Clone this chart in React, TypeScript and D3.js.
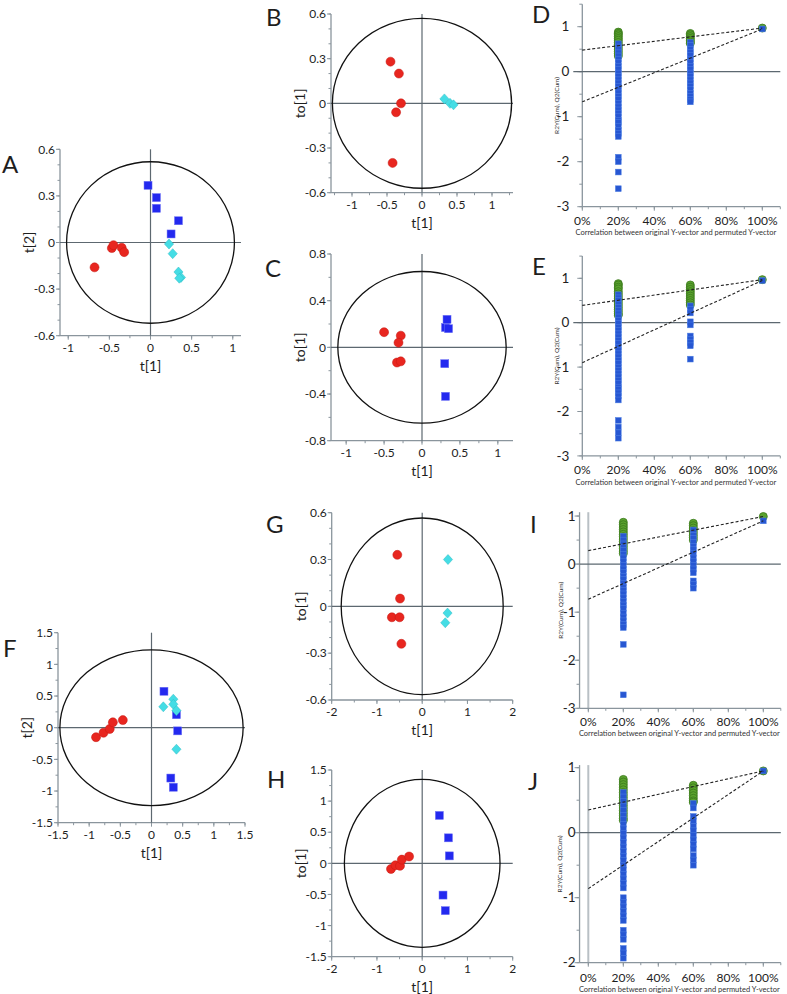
import React from "react";
import * as d3 from "d3";

const FONT = "Lato, 'Open Sans', 'DejaVu Sans', sans-serif";

type Pt = [number, number];

// ---------- Score plot data (t[1], t[2]/to[1]) ----------
const aRed: Pt[] = [[-0.68, -0.16], [-0.47, -0.036], [-0.45, -0.017], [-0.35, -0.034], [-0.32, -0.062]];
const aBlue: Pt[] = [[-0.03, 0.368], [0.072, 0.289], [0.072, 0.22], [0.34, 0.14], [0.25, 0.055]];
const aCyan: Pt[] = [[0.225, -0.01], [0.27, -0.072], [0.34, -0.19], [0.37, -0.225], [0.35, -0.23]];

const bRed: Pt[] = [[-0.45, 0.28], [-0.33, 0.2], [-0.3, 0.0], [-0.37, -0.06], [-0.42, -0.4]];
const bCyan: Pt[] = [[0.32, 0.03], [0.4, 0.0], [0.45, -0.01]];

const cRed: Pt[] = [[-0.5, 0.13], [-0.28, 0.1], [-0.31, 0.04], [-0.33, -0.13], [-0.28, -0.12]];
const cBlue: Pt[] = [[0.33, 0.24], [0.31, 0.17], [0.35, 0.16], [0.3, -0.14], [0.31, -0.42]];

const fRed: Pt[] = [[-0.89, -0.15], [-0.77, -0.08], [-0.67, -0.02], [-0.62, 0.085], [-0.46, 0.12]];
const fBlue: Pt[] = [[0.2, 0.575], [0.4, 0.205], [0.42, -0.05], [0.31, -0.795], [0.35, -0.94]];
const fCyan: Pt[] = [[0.19, 0.33], [0.35, 0.45], [0.35, 0.37], [0.4, 0.27], [0.4, -0.34]];

const gRed: Pt[] = [[-0.55, 0.33], [-0.49, 0.05], [-0.67, -0.07], [-0.5, -0.07], [-0.46, -0.24]];
const gCyan: Pt[] = [[0.57, 0.3], [0.56, -0.043], [0.51, -0.105]];

const hRed: Pt[] = [[-0.69, -0.09], [-0.59, -0.03], [-0.49, -0.04], [-0.45, 0.06], [-0.29, 0.11]];
const hBlue: Pt[] = [[0.38, 0.77], [0.58, 0.41], [0.6, 0.12], [0.46, -0.51], [0.51, -0.76]];

// ---------- Permutation data (R2 = green circles, Q2 = blue squares) ----------
const dGreen20 = [0.88, 0.85, 0.82, 0.78, 0.74, 0.7, 0.65, 0.6, 0.55, 0.5, 0.45, 0.4, 0.35];
const dBlue20 = [0.62, 0.55, 0.5, 0.42, 0.35, 0.28, 0.2, 0.12, 0.05, -0.03, -0.1, -0.18, -0.25, -0.33, -0.4, -0.47, -0.55, -0.62, -0.7, -0.78, -0.85, -0.92, -1.0, -1.08, -1.13, -1.22, -1.3, -1.37, -1.44, -1.9, -2.0, -2.23, -2.6];
const dGreen60 = [0.85, 0.82, 0.78, 0.74, 0.7, 0.66, 0.63];
const dBlue60 = [0.65, 0.58, 0.5, 0.43, 0.36, 0.28, 0.2, 0.12, 0.05, -0.03, -0.1, -0.18, -0.25, -0.32, -0.4, -0.48, -0.55, -0.62, -0.67];
const dGreen100 = [0.97];
const dBlue100 = [0.95];
const dR2Line = [0.48, 0.97];
const dQ2Line = [-0.67, 0.95];

const eGreen20 = [0.88, 0.85, 0.8, 0.76, 0.7, 0.65, 0.6, 0.55, 0.5, 0.45, 0.4, 0.35, 0.3, 0.25, 0.2, 0.17];
const eBlue20 = [0.63, 0.56, 0.5, 0.42, 0.35, 0.28, 0.2, 0.13, 0.05, -0.02, -0.1, -0.17, -0.25, -0.32, -0.4, -0.47, -0.55, -0.62, -0.7, -0.77, -0.85, -0.92, -1.0, -1.07, -1.15, -1.22, -1.3, -1.37, -1.45, -1.5, -1.58, -1.65, -1.74, -2.2, -2.35, -2.48, -2.6];
const eGreen60 = [0.85, 0.8, 0.75, 0.7, 0.65, 0.6, 0.55, 0.5, 0.45, 0.4];
const eBlue60 = [0.38, 0.3, 0.22, 0.02, -0.05, -0.3, -0.38, -0.45, -0.52, -0.82];
const eGreen100 = [0.97];
const eBlue100 = [0.95];
const eR2Line = [0.39, 0.97];
const eQ2Line = [-0.9, 0.95];

const iGreen20 = [0.87, 0.82, 0.77, 0.72, 0.67, 0.62, 0.57, 0.52, 0.47, 0.42, 0.37, 0.32, 0.27, 0.22];
const iBlue20 = [0.58, 0.5, 0.42, 0.35, 0.28, 0.2, 0.13, 0.05, -0.03, -0.1, -0.17, -0.25, -0.32, -0.4, -0.48, -0.55, -0.62, -0.7, -0.78, -0.85, -0.92, -1.02, -1.1, -1.18, -1.26, -1.32, -1.67, -2.72];
const iGreen60 = [0.85, 0.8, 0.75, 0.7, 0.65, 0.6, 0.55, 0.5];
const iBlue60 = [0.71, 0.6, 0.53, 0.45, 0.37, 0.3, 0.22, 0.13, 0.05, -0.03, -0.1, -0.18, -0.35, -0.42, -0.5];
const iGreen100 = [0.99];
const iBlue100 = [0.9];
const iR2Line = [0.28, 0.99];
const iQ2Line = [-0.73, 0.9];

const jGreen20 = [0.82, 0.78, 0.74, 0.7, 0.66, 0.62, 0.58, 0.54, 0.5, 0.46, 0.42, 0.38, 0.34, 0.3, 0.26, 0.22, 0.19];
const jBlue20 = [0.62, 0.55, 0.48, 0.41, 0.34, 0.27, 0.2, 0.13, 0.06, -0.01, -0.08, -0.15, -0.22, -0.29, -0.36, -0.43, -0.5, -0.57, -0.64, -0.71, -0.78, -0.85, -1.0, -1.07, -1.14, -1.21, -1.28, -1.35, -1.5, -1.57, -1.64, -1.78, -1.85, -1.93];
const jGreen60 = [0.73, 0.69, 0.65, 0.61, 0.57, 0.53, 0.49, 0.47];
const jBlue60 = [0.45, 0.38, 0.25, 0.18, 0.1, 0.03, -0.04, -0.11, -0.18, -0.25, -0.35, -0.42, -0.5];
const jGreen100 = [0.95];
const jBlue100 = [0.95];
const jR2Line = [0.35, 0.95];
const jQ2Line = [-0.86, 0.95];

const permX = [20, 60, 100];
const permTickLabels = ["0%", "20%", "40%", "60%", "80%", "100%"];
const permTicks = [0, 20, 40, 60, 80, 100];

// ---------- styles ----------
const AXIS = "#8a959d";
const ZERO = "#5d6870";
const RED = "#e8261f";
const BLUE = "#2329ef";
const CYAN = "#45dde5";
const PGREEN = "#5aa22e";
const PBLUE = "#2757d2";
const TXT = "#1e1e1e";

function minorRange(domain: number[], step: number) {
  const out: number[] = [];
  const start = Math.ceil(domain[0] / step - 1e-9) * step;
  for (let v = start; v <= domain[1] + 1e-9; v += step) out.push(+v.toFixed(6));
  return out;
}

function ScorePlot(p: any) {
  const x = d3.scaleLinear().domain(p.xDomain).range(p.xRange);
  const y = d3.scaleLinear().domain(p.yDomain).range(p.yRange);
  const [x0, x1] = p.xRange;
  const [yb, yt] = p.yRange;
  const cx = x(0), cy = y(0);
  const erx = x(p.rx) - cx, ery = cy - y(p.ry);
  const fmt = (v: number) => (v === 0 ? "0" : String(v));
  return (
    <g>
      <text x={p.letterPos[0]} y={p.letterPos[1]} fontSize={24} fontFamily={FONT} fill={TXT}>{p.letter}</text>
      {/* minor ticks */}
      {minorRange(p.yDomain, p.yMinor).map((v, i) => (
        <line key={"ym" + i} x1={x0 - 2.5} x2={x0} y1={y(v)} y2={y(v)} stroke={AXIS} strokeWidth={1} />
      ))}
      {minorRange(p.xDomain, p.xMinor).map((v, i) => (
        <line key={"xm" + i} x1={x(v)} x2={x(v)} y1={yb} y2={yb + 2.5} stroke={AXIS} strokeWidth={1} />
      ))}
      {p.yTicks.map((v: number, i: number) => (
        <g key={"yt" + i}>
          <line x1={x0 - 4} x2={x0} y1={y(v)} y2={y(v)} stroke={AXIS} strokeWidth={1} />
          <text x={x0 - 5} y={y(v)} dy="0.35em" textAnchor="end" fontSize={12} fontFamily={FONT} fill={TXT}>{fmt(v)}</text>
        </g>
      ))}
      {p.xTicks.map((v: number, i: number) => (
        <g key={"xt" + i}>
          <line x1={x(v)} x2={x(v)} y1={yb} y2={yb + 4} stroke={AXIS} strokeWidth={1} />
          <text x={x(v)} y={yb + 12} dy="0.35em" textAnchor="middle" fontSize={12} fontFamily={FONT} fill={TXT}>{fmt(v)}</text>
        </g>
      ))}
      <line x1={x0} x2={x0} y1={yt} y2={yb} stroke={AXIS} strokeWidth={1.3} />
      <line x1={x0} x2={x1} y1={yb} y2={yb} stroke={AXIS} strokeWidth={1.3} />
      <line x1={cx} x2={cx} y1={yt} y2={yb} stroke={ZERO} strokeWidth={1.2} />
      <line x1={x0} x2={x1} y1={cy} y2={cy} stroke={ZERO} strokeWidth={1.2} />
      <ellipse cx={cx} cy={cy} rx={erx} ry={ery} fill="none" stroke="#111" strokeWidth={1.3} />
      <text x={(x0 + x1) / 2} y={yb + 30} dy="0.35em" textAnchor="middle" fontSize={14} fontFamily={FONT} fill={TXT}>{p.xTitle}</text>
      <text transform={`translate(${x0 - 31},${(yb + yt) / 2}) rotate(-90)`} dy="0.35em" textAnchor="middle" fontSize={14} fontFamily={FONT} fill={TXT}>{p.yTitle}</text>
      {(p.red || []).map((d: Pt, i: number) => (
        <circle key={"r" + i} cx={x(d[0])} cy={y(d[1])} r={4.5} fill={RED} stroke="#c41812" strokeWidth={0.5} />
      ))}
      {(p.blue || []).map((d: Pt, i: number) => (
        <rect key={"b" + i} x={x(d[0]) - 4} y={y(d[1]) - 4} width={8} height={8} fill={BLUE} stroke="#6c70f5" strokeWidth={0.5} />
      ))}
      {(p.cyan || []).map((d: Pt, i: number) => (
        <path key={"c" + i} transform={`translate(${x(d[0])},${y(d[1])})`} d="M0,-5L4.6,0L0,5L-4.6,0Z" fill={CYAN} stroke="#2fbcc5" strokeWidth={0.5} />
      ))}
    </g>
  );
}

function PermPlot(p: any) {
  const x = d3.scaleLinear().domain(p.xDomain).range(p.xRange);
  const y = d3.scaleLinear().domain(p.yDomain).range(p.yRange);
  const [x0, x1] = p.xRange;
  const [yb, yt] = p.yRange;
  const groupsG = [p.green20, p.green60, p.green100];
  const groupsB = [p.blue20, p.blue60, p.blue100];
  const line = d3.line<[number, number]>().x((d) => x(d[0])).y((d) => y(d[1]));
  return (
    <g>
      <text x={p.letterPos[0]} y={p.letterPos[1]} fontSize={24} fontFamily={FONT} fill={TXT}>{p.letter}</text>
      {p.lightZero && (
        <line x1={x(0)} x2={x(0)} y1={yt} y2={yb} stroke="#b9c0c5" strokeWidth={2} />
      )}
      {minorRange(p.yDomain, 0.5).map((v, i) => (
        <line key={"ym" + i} x1={x0 - 3} x2={x0} y1={y(v)} y2={y(v)} stroke={AXIS} strokeWidth={1} />
      ))}
      {minorRange([0, 110], 10).map((v, i) => (
        <line key={"xm" + i} x1={x(v)} x2={x(v)} y1={yb} y2={yb + 2.5} stroke={AXIS} strokeWidth={1} />
      ))}
      {p.yTicks.map((v: number, i: number) => (
        <g key={"yt" + i}>
          <line x1={x0 - 5} x2={x0} y1={y(v)} y2={y(v)} stroke={AXIS} strokeWidth={1} />
          <text x={x0 - p.yLabelGap} y={y(v)} dy="0.35em" textAnchor="end" fontSize={13.5} fontFamily={FONT} fill={TXT}>{String(v)}</text>
        </g>
      ))}
      {permTicks.map((v, i) => (
        <g key={"xt" + i}>
          <line x1={x(v)} x2={x(v)} y1={yb} y2={yb + 4} stroke={AXIS} strokeWidth={1} />
          <text x={x(v)} y={yb + p.xLabelGap} dy="0.35em" textAnchor="middle" fontSize={12} fontFamily={FONT} fill={TXT}>{permTickLabels[i]}</text>
        </g>
      ))}
      <line x1={x0} x2={x0} y1={yt} y2={yb} stroke={AXIS} strokeWidth={1.3} />
      <line x1={x0} x2={x1} y1={yb} y2={yb} stroke={AXIS} strokeWidth={1.3} />
      <line x1={x0 - p.zeroExt} x2={x1} y1={y(0)} y2={y(0)} stroke={ZERO} strokeWidth={1.2} />
      <text x={x(52)} y={yb + p.xLabelGap + 12} dy="0.35em" textAnchor="middle" fontSize={7.5} fontFamily={FONT} fill="#333">Correlation between original Y-vector and permuted Y-vector</text>
      <text transform={`translate(${p.yTitleX},${(yb + yt) / 2}) rotate(-90)`} dy="0.35em" textAnchor="middle" fontSize={6.5} fontFamily={FONT} fill="#333">R2Y(Cum), Q2(Cum)</text>
      {groupsG.map((arr: number[], gi: number) =>
        arr.map((v, i) => (
          <circle key={"g" + gi + "_" + i} cx={x(permX[gi])} cy={y(v)} r={4} fill={PGREEN} stroke="#3b7a1c" strokeWidth={0.8} />
        ))
      )}
      {groupsB.map((arr: number[], gi: number) =>
        arr.map((v, i) => (
          <rect key={"b" + gi + "_" + i} x={x(permX[gi]) - 2.9} y={y(v) - 2.9} width={5.8} height={5.8} fill={PBLUE} stroke="#4f80e4" strokeWidth={0.5} />
        ))
      )}
      <path d={line([[0, p.r2Line[0]], [100, p.r2Line[1]]]) || ""} fill="none" stroke="#222" strokeWidth={1.1} strokeDasharray="3,2" />
      <path d={line([[0, p.q2Line[0]], [100, p.q2Line[1]]]) || ""} fill="none" stroke="#222" strokeWidth={1.1} strokeDasharray="3,2" />
    </g>
  );
}

export default function App() {
  return (
    <svg width={787} height={994} style={{ position: "absolute", left: 0, top: 0, background: "#fff" }}>
      <rect width={787} height={994} fill="#fff" />
      <ScorePlot letter="A" letterPos={[2, 173]} xDomain={[-1.1, 1.1]} xRange={[60, 241]} yDomain={[-0.6, 0.6]} yRange={[335.7, 149.3]}
        xTicks={[-1, -0.5, 0, 0.5, 1]} yTicks={[-0.6, -0.3, 0, 0.3, 0.6]} xMinor={0.25} yMinor={0.1}
        rx={1.02} ry={0.52} red={aRed} blue={aBlue} cyan={aCyan} xTitle="t[1]" yTitle="t[2]" />
      <ScorePlot letter="B" letterPos={[266, 26]} xDomain={[-1.3, 1.3]} xRange={[331, 513]} yDomain={[-0.6, 0.6]} yRange={[192.7, 14]}
        xTicks={[-1, -0.5, 0, 0.5, 1]} yTicks={[-0.6, -0.3, 0, 0.3, 0.6]} xMinor={0.25} yMinor={0.1}
        rx={1.28} ry={0.57} red={bRed} cyan={bCyan} xTitle="t[1]" yTitle="to[1]" />
      <ScorePlot letter="C" letterPos={[265, 276.7]} xDomain={[-1.2, 1.2]} xRange={[331, 513]} yDomain={[-0.8, 0.8]} yRange={[440.7, 254]}
        xTicks={[-1, -0.5, 0, 0.5, 1]} yTicks={[-0.8, -0.4, 0, 0.4, 0.8]} xMinor={0.25} yMinor={0.2}
        rx={1.11} ry={0.65} red={cRed} blue={cBlue} xTitle="t[1]" yTitle="to[1]" />
      <ScorePlot letter="F" letterPos={[3, 657]} xDomain={[-1.5, 1.5]} xRange={[58, 245]} yDomain={[-1.5, 1.5]} yRange={[822.7, 632.7]}
        xTicks={[-1.5, -1, -0.5, 0, 0.5, 1, 1.5]} yTicks={[-1.5, -1, -0.5, 0, 0.5, 1, 1.5]} xMinor={0.25} yMinor={0.25}
        rx={1.47} ry={1.23} red={fRed} blue={fBlue} cyan={fCyan} xTitle="t[1]" yTitle="t[2]" />
      <ScorePlot letter="G" letterPos={[266, 533]} xDomain={[-2, 2]} xRange={[331.7, 512.7]} yDomain={[-0.6, 0.6]} yRange={[700, 512.7]}
        xTicks={[-2, -1, 0, 1, 2]} yTicks={[-0.6, -0.3, 0, 0.3, 0.6]} xMinor={0.5} yMinor={0.1}
        rx={1.79} ry={0.566} red={gRed} cyan={gCyan} xTitle="t[1]" yTitle="to[1]" />
      <ScorePlot letter="H" letterPos={[267, 788]} xDomain={[-2, 2]} xRange={[331.7, 512.7]} yDomain={[-1.5, 1.5]} yRange={[956.7, 770]}
        xTicks={[-2, -1, 0, 1, 2]} yTicks={[-1.5, -1, -0.5, 0, 0.5, 1, 1.5]} xMinor={0.5} yMinor={0.25}
        rx={1.72} ry={1.35} red={hRed} blue={hBlue} xTitle="t[1]" yTitle="to[1]" />

      <PermPlot letter="D" letterPos={[532, 22.7]} xDomain={[0, 110]} xRange={[582.3, 780.3]} yDomain={[-3, 1.5]} yRange={[206.7, 4.2]}
        yTicks={[-3, -2, -1, 0, 1]} lightZero={false} zeroExt={9} yLabelGap={13} xLabelGap={14} yTitleX={557}
        green20={dGreen20} blue20={dBlue20} green60={dGreen60} blue60={dBlue60} green100={dGreen100} blue100={dBlue100}
        r2Line={dR2Line} q2Line={dQ2Line} />
      <PermPlot letter="E" letterPos={[532, 275]} xDomain={[0, 110]} xRange={[582.3, 780.3]} yDomain={[-3, 1.5]} yRange={[455.9, 256.1]}
        yTicks={[-3, -2, -1, 0, 1]} lightZero={false} zeroExt={9} yLabelGap={13} xLabelGap={14} yTitleX={557}
        green20={eGreen20} blue20={eBlue20} green60={eGreen60} blue60={eBlue60} green100={eGreen100} blue100={eBlue100}
        r2Line={eR2Line} q2Line={eQ2Line} />
      <PermPlot letter="I" letterPos={[530, 533]} xDomain={[-5, 110]} xRange={[579.55, 780.8]} yDomain={[-3, 1.08]} yRange={[708.3, 512.2]}
        yTicks={[-3, -2, -1, 0, 1]} lightZero={true} zeroExt={0} yLabelGap={4} xLabelGap={13} yTitleX={560.7}
        green20={iGreen20} blue20={iBlue20} green60={iGreen60} blue60={iBlue60} green100={iGreen100} blue100={iBlue100}
        r2Line={iR2Line} q2Line={iQ2Line} />
      <PermPlot letter="J" letterPos={[528, 790]} xDomain={[-5, 110]} xRange={[579.55, 780.8]} yDomain={[-2, 1.04]} yRange={[962.7, 765.1]}
        yTicks={[-2, -1, 0, 1]} lightZero={true} zeroExt={0} yLabelGap={4} xLabelGap={15} yTitleX={560}
        green20={jGreen20} blue20={jBlue20} green60={jGreen60} blue60={jBlue60} green100={jGreen100} blue100={jBlue100}
        r2Line={jR2Line} q2Line={jQ2Line} />
    </svg>
  );
}
